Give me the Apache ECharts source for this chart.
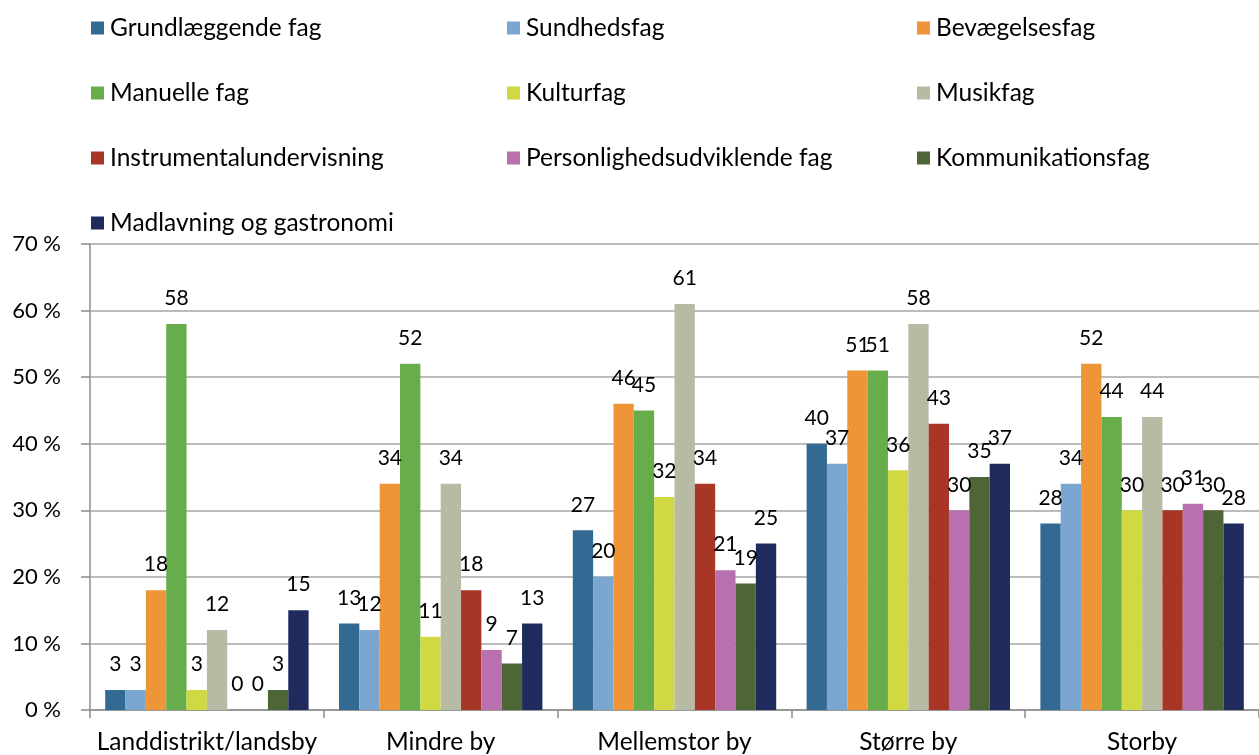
<!DOCTYPE html>
<html>
<head>
<meta charset="utf-8">
<script src="https://cdn.jsdelivr.net/npm/echarts@6/dist/echarts.min.js"></script>
<style>
  html, body { margin: 0; padding: 0; background: #fff; }
  #chart { width: 1259px; height: 755px; }
</style>
</head>
<body>
<div id="chart"></div>
<script>
var categories = ["Landdistrikt/landsby", "Mindre by", "Mellemstor by", "Større by", "Storby"];
var seriesNames = ["Grundlæggende fag", "Sundhedsfag", "Bevægelsesfag", "Manuelle fag", "Kulturfag",
    "Musikfag", "Instrumentalundervisning", "Personlighedsudviklende fag", "Kommunikationsfag",
    "Madlavning og gastronomi"];
var grundlaeggende = [3, 13, 27, 40, 28];
var sundhed = [3, 12, 20, 37, 34];
var bevaegelse = [18, 34, 46, 51, 52];
var manuelle = [58, 52, 45, 51, 44];
var kultur = [3, 11, 32, 36, 30];
var musik = [12, 34, 61, 58, 44];
var instrumental = [0, 18, 34, 43, 30];
var personlighed = [0, 9, 21, 30, 31];
var kommunikation = [3, 7, 19, 35, 30];
var madlavning = [15, 13, 25, 37, 28];
var yTicks = [0, 10, 20, 30, 40, 50, 60, 70];

var values = [grundlaeggende, sundhed, bevaegelse, manuelle, kultur, musik,
    instrumental, personlighed, kommunikation, madlavning];
var colors = ["#326a93", "#7aa6d0", "#ee9537", "#68ad4c", "#d1d942",
    "#b8bba4", "#a83626", "#b970ae", "#4e6636", "#1f2b5c"];

var font = "Lato, 'Open Sans', sans-serif";

var series = [];
for (var i = 0; i < seriesNames.length; i++) {
    series.push({
        name: seriesNames[i],
        type: 'bar',
        data: values[i],
        barGap: '0%',
        barCategoryGap: '13%',
        itemStyle: {color: colors[i]},
        label: {
            show: true,
            position: 'top',
            distance: 15,
            color: '#000',
            fontSize: 21,
            fontFamily: font
        }
    });
}

function legendCol(names, left) {
    return {
        orient: 'vertical',
        left: left,
        top: 10,
        itemWidth: 13,
        itemHeight: 13,
        itemGap: 39,
        icon: 'rect',
        selectedMode: false,
        data: names,
        textStyle: {fontSize: 24.5, fontFamily: font, color: '#000', lineHeight: 26, padding: [0, 0, 0, 1]}
    };
}

var chart = echarts.init(document.getElementById('chart'));
var option = {
    animation: false,
    color: colors,
    legend: [
        legendCol([seriesNames[0], seriesNames[3], seriesNames[6], seriesNames[9]], 86),
        legendCol([seriesNames[1], seriesNames[4], seriesNames[7]], 502),
        legendCol([seriesNames[2], seriesNames[5], seriesNames[8]], 912)
    ],
    grid: {
        left: 90,
        top: 244,
        width: 1175,
        height: 467
    },
    xAxis: {
        type: 'category',
        data: categories,
        axisLine: {lineStyle: {color: '#8c8c8c', width: 1.5}},
        axisTick: {show: true, length: 8, lineStyle: {color: '#8c8c8c', width: 1.5}},
        axisLabel: {interval: 0, fontSize: 24.5, fontFamily: font, color: '#000', margin: 20}
    },
    yAxis: {
        type: 'value',
        min: yTicks[0],
        max: yTicks[yTicks.length - 1],
        interval: 10,
        axisLine: {show: true, lineStyle: {color: '#8c8c8c', width: 1.5}},
        axisTick: {show: true, length: 9, lineStyle: {color: '#8c8c8c', width: 1.5}},
        splitLine: {lineStyle: {color: '#a6a6a6', width: 1.5}},
        axisLabel: {
            fontSize: 22,
            fontFamily: font,
            color: '#000',
            margin: 29,
            formatter: '{value} %'
        }
    },
    series: series
};
chart.setOption(option);
</script>
</body>
</html>
